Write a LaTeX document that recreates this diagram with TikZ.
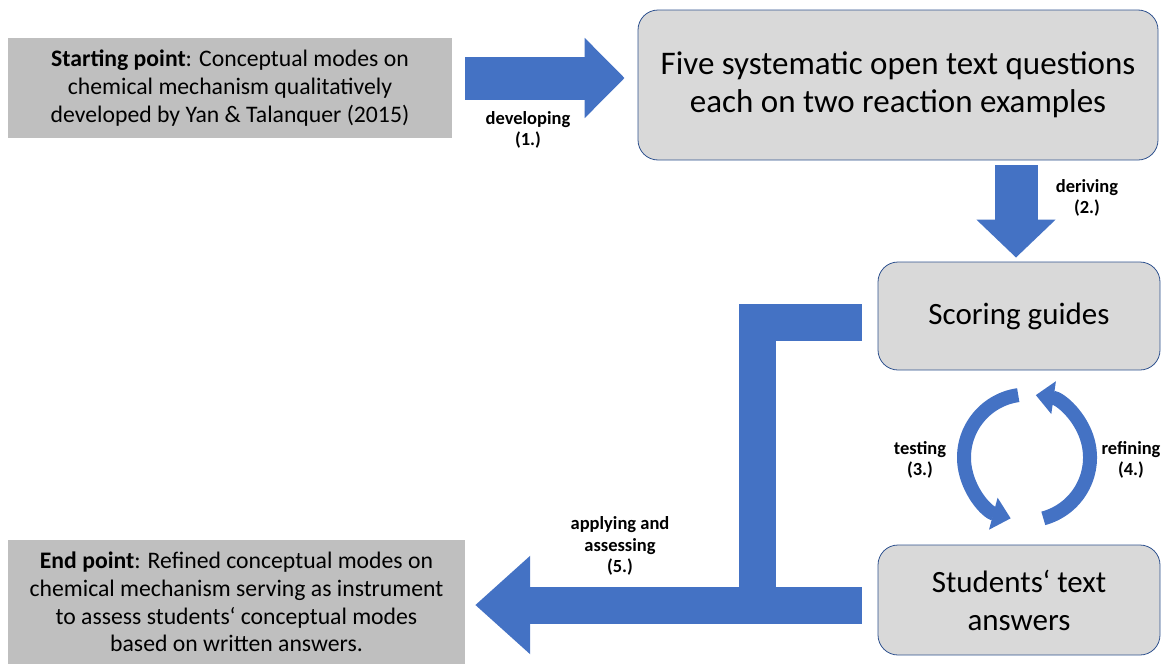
\documentclass[tikz,border=0pt]{standalone}
\usepackage{fontspec}
\setmainfont{Carlito}
\usetikzlibrary{arrows.meta,calc}
\definecolor{flowblue}{HTML}{4472C4}
\definecolor{edgeblue}{HTML}{2F528F}
\definecolor{lightbox}{HTML}{D9D9D9}
\definecolor{darkbox}{HTML}{BFBFBF}

\begin{document}
\begin{tikzpicture}[x=1pt, y=1pt,
    pointbox/.style={rectangle, fill=darkbox, align=center,
        font=\fontsize{23.7}{27.7}\selectfont},
    stepbox/.style={rectangle, rounded corners=20pt, draw=edgeblue, thick,
        fill=lightbox, align=center, font=\fontsize{31}{38}\selectfont},
    steplabel/.style={align=center, font=\bfseries\fontsize{18.5}{21.5}\selectfont},
    blockarrow/.style={draw=flowblue, line width=43pt},
    barline/.style={draw=flowblue, line width=37pt, line join=miter},
    loopline/.style={draw=flowblue, line width=14pt},
]
\useasboundingbox (0,0) rectangle (1164,-664);

% Boxes
\node[pointbox, minimum width=444pt, minimum height=100pt] (start) at (230,-88)
    {\textbf{Starting point}: Conceptual modes on\\chemical mechanism qualitatively\\developed by Yan \& Talanquer (2015)};
\node[stepbox, minimum width=520pt, minimum height=150pt, font=\fontsize{33}{38}\selectfont] (questions) at (898,-85)
    {Five systematic open text questions\\each on two reaction examples};
\node[stepbox, minimum width=282pt, minimum height=108pt] (scoring) at (1019,-316)
    {Scoring guides};
\node[stepbox, minimum width=282pt, minimum height=110pt] (answers) at (1019,-600)
    {Students‘ text\\answers};
\node[pointbox, minimum width=457pt, minimum height=124pt] (end) at (236.5,-602)
    {\textbf{End point}: Refined conceptual modes on\\chemical mechanism serving as instrument\\to assess students‘ conceptual modes\\based on written answers.};

% Step arrows
\draw[blockarrow, -{Triangle[length=40pt,width=78pt]}, shorten <=13pt, shorten >=13pt]
    ([yshift=10pt]start.east) -- ([yshift=7pt]questions.west);
\draw[blockarrow, -{Triangle[length=38pt,width=77pt]}, shorten <=5pt, shorten >=4pt]
    ([xshift=118pt]questions.south) -- ([xshift=-3pt]scoring.north);

% Applying bracket
\draw[barline, shorten <=16pt] ([yshift=-6pt]scoring.west) -- ++(-120,0) -- ++(0,-283);
\draw[barline, -{Triangle[length=55pt,width=95pt]}, shorten <=16pt, shorten >=10pt]
    ([yshift=-5pt]answers.west) -- ([yshift=-3pt]end.east);

% Testing / refining cycle
\coordinate (loop) at ($(scoring.south)!0.5!(answers.north)+(8,0)$);
\draw[loopline, -{Triangle[length=18pt,width=32pt]}]
    ([shift={(98:63pt)}]loop) arc[start angle=98, end angle=255, radius=63pt];
\draw[loopline, -{Triangle[length=18pt,width=32pt]}]
    ([shift={(-75:63pt)}]loop) arc[start angle=-75, end angle=82, radius=63pt];

% Labels
\node[steplabel] (lbldev) at (528,-130) {developing\\(1.)};
\node[steplabel] (lblder) at (1087,-198) {deriving\\(2.)};
\node[steplabel] (lbltest) at (920,-460) {testing\\(3.)};
\node[steplabel] (lblref) at (1131,-460) {refining\\(4.)};
\node[steplabel] (lblapp) at (620,-546) {applying and\\assessing\\(5.)};

\end{tikzpicture}
\end{document}
